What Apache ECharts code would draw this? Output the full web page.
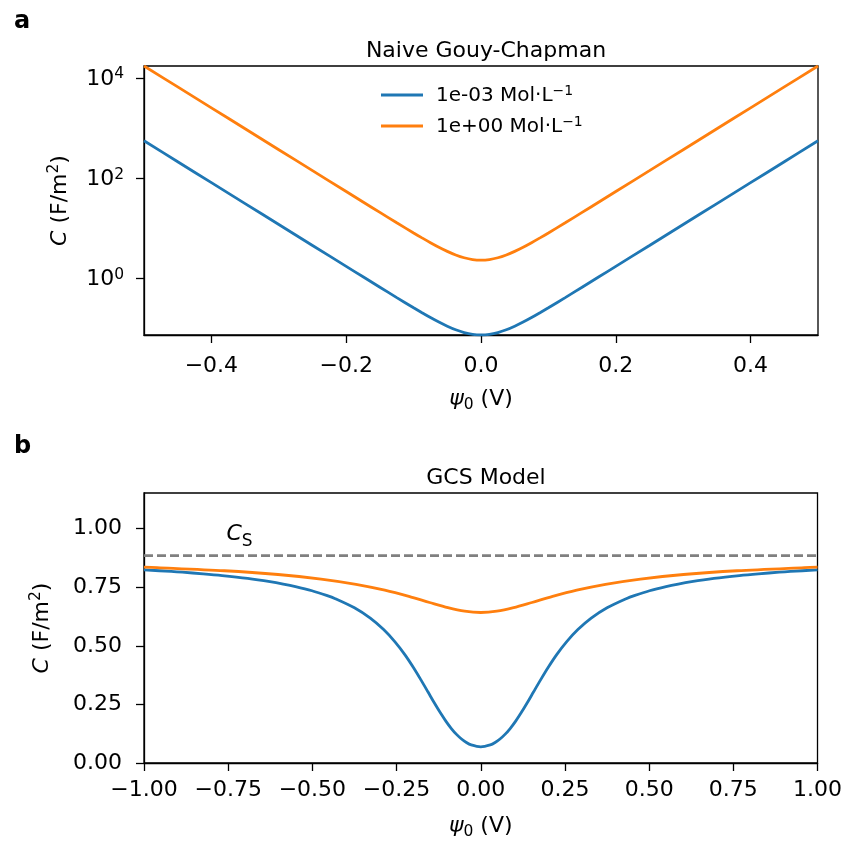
<!DOCTYPE html>
<html>
<head>
<meta charset="utf-8">
<script src="https://cdn.jsdelivr.net/npm/echarts@6/dist/echarts.min.js"></script>
<style>html,body{margin:0;padding:0;background:#fff}#c{width:845px;height:844px}</style>
</head>
<body>
<div id="c"></div>
<script>
// ---------- Data ----------
const seriesNames = ['1e-03 Mol·L⁻¹', '1e+00 Mol·L⁻¹'];
const legendLabels = ['{b|1e-03 Mol·L}{sup|−1}', '{b|1e+00 Mol·L}{sup|−1}'];

// Panel a: Naive Gouy-Chapman, C vs psi0 (log y)
const topX = [-0.5,-0.45,-0.4,-0.35,-0.3,-0.25,-0.2,-0.175,-0.15,-0.125,-0.1,-0.0875,-0.075,-0.0625,-0.05,-0.0375,-0.025,-0.0125,0,
              0.0125,0.025,0.0375,0.05,0.0625,0.075,0.0875,0.1,0.125,0.15,0.175,0.2,0.25,0.3,0.35,0.4,0.45,0.5];
const topBlue = [567.5,216.8,82.79,31.62,12.08,4.613,1.763,1.090,0.6751,0.4193,0.2625,0.2090,0.1677,0.1362,0.1125,0.0954,0.0839,0.0772,0.075,
                 0.0772,0.0839,0.0954,0.1125,0.1362,0.1677,0.2090,0.2625,0.4193,0.6751,1.090,1.763,4.613,12.08,31.62,82.79,216.8,567.5];
const topOrange = [17700,6763,2583,986.5,376.9,143.9,55.00,34.01,21.06,13.08,8.190,6.522,5.233,4.248,3.510,2.977,2.616,2.408,2.34,
                   2.408,2.616,2.977,3.510,4.248,5.233,6.522,8.190,13.08,21.06,34.01,55.00,143.9,376.9,986.5,2583,6763,17700];
const topXTicks = [-0.4,-0.2,0,0.2,0.4];
const topXTickLabels = ['−0.4','−0.2','0.0','0.2','0.4'];
const topYTicks = [1,100,10000];
const topYTickLabels = ['{b|10}{sup|0}','{b|10}{sup|2}','{b|10}{sup|4}'];

// Panel b: GCS model
const gcsBlueX = [-1.0,-0.9194,-0.8863,-0.8244,-0.7679,-0.6923,-0.6260,-0.5865,-0.5502,-0.5012,-0.4580,-0.4319,-0.3751,-0.3280,-0.2884,
                  -0.2547,-0.2255,-0.2000,-0.1772,-0.1565,-0.1376,-0.1199,-0.1032,-0.0873,-0.0720,-0.0571,-0.0426,-0.0283,0,
                  0.0283,0.0426,0.0571,0.0720,0.0873,0.1032,0.1199,0.1376,0.1565,0.1772,0.2000,0.2255,0.2547,0.2884,0.3280,
                  0.3751,0.4319,0.4580,0.5012,0.5502,0.5865,0.6260,0.6923,0.7679,0.8244,0.8863,0.9194,1.0];
const gcsBlueC = [0.8240,0.8172,0.8140,0.8072,0.7998,0.7875,0.7737,0.7636,0.7527,0.7350,0.7153,0.7012,0.6622,0.6180,0.5692,
                  0.5169,0.4625,0.4075,0.3536,0.3026,0.2558,0.2140,0.1777,0.1471,0.1221,0.1024,0.0875,0.0772,0.0691,
                  0.0772,0.0875,0.1024,0.1221,0.1471,0.1777,0.2140,0.2558,0.3026,0.3536,0.4075,0.4625,0.5169,0.5692,0.6180,
                  0.6622,0.7012,0.7153,0.7350,0.7527,0.7636,0.7737,0.7875,0.7998,0.8072,0.8140,0.8172,0.8240];
const gcsOrangeX = [-1.0,-0.9609,-0.7613,-0.6021,-0.4742,-0.3704,-0.2850,-0.2134,-0.1519,-0.0976,-0.0477,0,
                    0.0477,0.0976,0.1519,0.2134,0.2850,0.3704,0.4742,0.6021,0.7613,0.9609,1.0];
const gcsOrangeC = [0.8356,0.8336,0.8203,0.8042,0.7849,0.7624,0.7373,0.7108,0.6849,0.6627,0.6476,0.6421,
                    0.6476,0.6627,0.6849,0.7108,0.7373,0.7624,0.7849,0.8042,0.8203,0.8336,0.8356];
const sternC = 0.885;           // C_S dashed level
const sternX = [-1, 1];
const botXTicks = [-1,-0.75,-0.5,-0.25,0,0.25,0.5,0.75,1];
const botXTickLabels = ['−1.00','−0.75','−0.50','−0.25','0.00','0.25','0.50','0.75','1.00'];
const botYTicks = [0,0.25,0.5,0.75,1];
const botYTickLabels = ['0.00','0.25','0.50','0.75','1.00'];

// ---------- Chart ----------
const FONT = 'DejaVu Sans';
const BLUE = '#1f77b4', ORANGE = '#ff7f0e';
const LW = 2.8;
const pairs = (xs, ys) => xs.map((x, i) => [x, ys[i]]);
const lookup = (ticks, labels) => v => { const i = ticks.findIndex(t => Math.abs(t - v) < 1e-9 * Math.max(1, Math.abs(t))); return i >= 0 ? labels[i] : ''; };

const chart = echarts.init(document.getElementById('c'), null, {renderer: 'canvas'});

const axisCommon = {
  axisLine: {show: true, onZero: false, lineStyle: {color: '#000', width: 1.3}},
  axisTick: {show: true, inside: false, length: 8, lineStyle: {color: '#000', width: 1.3}},
  splitLine: {show: false},
};
const nameStyle = {fontFamily: FONT, fontSize: 22, color: '#000',
  rich: {
    i: {fontFamily: FONT, fontSize: 22, fontStyle: 'italic', color: '#000', verticalAlign: 'bottom', padding: [0, 0, 3, 0]},
    n: {fontFamily: FONT, fontSize: 22, color: '#000', verticalAlign: 'bottom', padding: [0, 0, 3, 0]},
    sub: {fontFamily: FONT, fontSize: 15.5, color: '#000', verticalAlign: 'bottom', padding: [0, 0, 0, 0]},
    sup: {fontFamily: FONT, fontSize: 15.5, color: '#000', verticalAlign: 'bottom', padding: [0, 0, 12, 0]}
  }};
const xName = '{i|ψ}{sub|0}{n| (V)}';
const yName = '{i|C}{n| (F/m}{sup|2}{n|)}';
const tickFont = {fontFamily: FONT, fontSize: 22, color: '#000'};

chart.setOption({
  animation: false,
  backgroundColor: '#fff',
  textStyle: {fontFamily: FONT},
  title: [
    {text: 'a', left: 9, top: 5, textStyle: {fontFamily: FONT, fontWeight: 'bold', fontSize: 24, color: '#000'}},
    {text: 'Naive Gouy-Chapman', left: 481, top: 35, textAlign: 'center', textStyle: {fontFamily: FONT, fontWeight: 'normal', fontSize: 22, color: '#000'}},
    {text: 'b', left: 9, top: 430, textStyle: {fontFamily: FONT, fontWeight: 'bold', fontSize: 24, color: '#000'}},
    {text: 'GCS Model', left: 481, top: 462, textAlign: 'center', textStyle: {fontFamily: FONT, fontWeight: 'normal', fontSize: 22, color: '#000'}}
  ],
  legend: {
    data: seriesNames,
    orient: 'vertical', left: 376, top: 79,
    icon: 'rect', itemWidth: 42, itemHeight: 3, itemGap: 9,
    formatter: name => legendLabels[seriesNames.indexOf(name)],
    textStyle: {fontFamily: FONT, fontSize: 20, color: '#000', padding: [0, 0, 0, 8],
      rich: {
        b: {fontFamily: FONT, fontSize: 20, color: '#000', verticalAlign: 'bottom'},
        sup: {fontFamily: FONT, fontSize: 14, color: '#000', verticalAlign: 'bottom', padding: [0, 0, 8, 0]}
      }}
  },
  grid: [
    {left: 144, right: 27, top: 66, height: 269, show: true, borderColor: '#000', borderWidth: 1.3, backgroundColor: 'transparent'},
    {left: 144, right: 27, top: 493, height: 270, show: true, borderColor: '#000', borderWidth: 1.3, backgroundColor: 'transparent'}
  ],
  xAxis: [
    Object.assign({}, axisCommon, {
      type: 'value', gridIndex: 0, min: -0.5, max: 0.5,
      name: xName, nameLocation: 'middle', nameGap: 53, nameTextStyle: nameStyle,
      axisTick: Object.assign({}, axisCommon.axisTick, {customValues: topXTicks}),
      axisLabel: Object.assign({customValues: topXTicks, formatter: lookup(topXTicks, topXTickLabels), margin: 20}, tickFont)
    }),
    Object.assign({}, axisCommon, {
      type: 'value', gridIndex: 1, min: -1, max: 1,
      name: xName, nameLocation: 'middle', nameGap: 52, nameTextStyle: nameStyle,
      axisTick: Object.assign({}, axisCommon.axisTick, {customValues: botXTicks}),
      axisLabel: Object.assign({customValues: botXTicks, formatter: lookup(botXTicks, botXTickLabels), margin: 16}, tickFont)
    })
  ],
  yAxis: [
    Object.assign({}, axisCommon, {
      type: 'log', gridIndex: 0, min: 0.075, max: 17700, logBase: 10,
      name: yName, nameLocation: 'middle', nameGap: 70, nameRotate: 90, nameTextStyle: nameStyle,
      axisTick: Object.assign({}, axisCommon.axisTick, {customValues: topYTicks}),
      axisLabel: Object.assign({customValues: topYTicks, formatter: lookup(topYTicks, topYTickLabels), margin: 20,
        rich: {
          b: {fontFamily: FONT, fontSize: 22, color: '#000', verticalAlign: 'bottom'},
          sup: {fontFamily: FONT, fontSize: 15.5, color: '#000', verticalAlign: 'bottom', padding: [0, 0, 8, 0]}
        }}, tickFont),
      minorTick: {show: false}
    }),
    Object.assign({}, axisCommon, {
      type: 'value', gridIndex: 1, min: 0, max: 1.152,
      name: yName, nameLocation: 'middle', nameGap: 88, nameRotate: 90, nameTextStyle: nameStyle,
      axisTick: Object.assign({}, axisCommon.axisTick, {customValues: botYTicks}),
      axisLabel: Object.assign({customValues: botYTicks, formatter: lookup(botYTicks, botYTickLabels), margin: 22}, tickFont)
    })
  ],
  series: [
    {name: seriesNames[0], type: 'line', xAxisIndex: 0, yAxisIndex: 0, data: pairs(topX, topBlue),
     showSymbol: false, smooth: 0.3, lineStyle: {color: BLUE, width: LW}, itemStyle: {color: BLUE}},
    {name: seriesNames[1], type: 'line', xAxisIndex: 0, yAxisIndex: 0, data: pairs(topX, topOrange),
     showSymbol: false, smooth: 0.3, lineStyle: {color: ORANGE, width: LW}, itemStyle: {color: ORANGE}},
    {name: seriesNames[0], type: 'line', xAxisIndex: 1, yAxisIndex: 1, data: pairs(gcsBlueX, gcsBlueC),
     showSymbol: false, smooth: 0.3, lineStyle: {color: BLUE, width: LW}, itemStyle: {color: BLUE}},
    {name: seriesNames[1], type: 'line', xAxisIndex: 1, yAxisIndex: 1, data: pairs(gcsOrangeX, gcsOrangeC),
     showSymbol: false, smooth: 0.3, lineStyle: {color: ORANGE, width: LW}, itemStyle: {color: ORANGE}},
    {name: 'Cs', type: 'line', xAxisIndex: 1, yAxisIndex: 1, data: sternX.map(x => [x, sternC]),
     showSymbol: false, lineStyle: {color: '#808080', width: LW, type: [9, 4]}, itemStyle: {color: '#808080'}, z: 1,
     markPoint: {
       symbol: 'circle', symbolSize: 0, silent: true,
       data: [{coord: [-0.755, 0.965]}],
       label: {show: true, position: 'right', distance: 0,
         formatter: '{c|C}{s|S}',
         rich: {
           c: {fontFamily: FONT, fontSize: 22, fontStyle: 'italic', color: '#000', verticalAlign: 'bottom', padding: [0, 0, 5, 0]},
           s: {fontFamily: FONT, fontSize: 17, color: '#000', verticalAlign: 'bottom'}
         }}
     }}
  ]
});
</script>
</body>
</html>
